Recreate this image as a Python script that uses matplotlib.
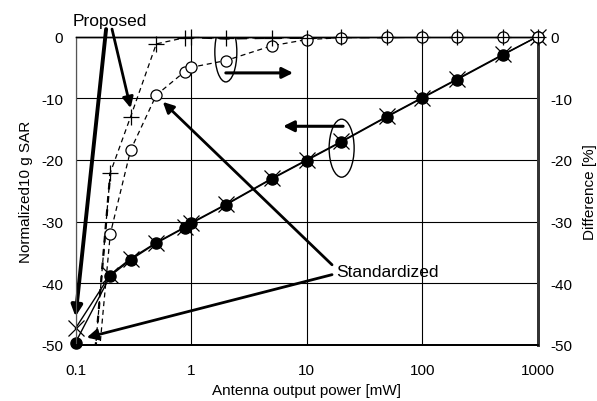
import matplotlib
matplotlib.use("Agg")
import matplotlib.pyplot as plt
from matplotlib.patches import Ellipse
from matplotlib.transforms import ScaledTranslation

plt.rcParams['font.family'] = ['Liberation Sans', 'DejaVu Sans']

# output power [mW]
power = [0.1, 0.2, 0.3, 0.5, 0.88, 1, 2, 5, 10, 20, 50, 100, 200, 500, 1000]

# normalized 10 g SAR [dB] (left axis)
sar_std = [-49.6, -38.8, -36.2, -33.5, -31.0, -30.3, -27.3, -23.1, -20.1, -17.1, -13.0, -10.0, -7.0, -3.0, 0.0]
sar_prop = [-47.3, -38.6, -36.0, -33.4, -30.9, -30.2, -27.2, -23.0, -20.0, -17.0, -12.9, -9.9, -6.9, -2.9, 0.0]

# difference [%] (right axis); values at 0.1 mW lie below the axis
diff_prop = [-89.0, -22.1, -13.0, -1.2, -0.2, -0.1, -0.3, -0.2, -0.2, -0.1, -0.1, 0.0, 0.0, 0.0, 0.0]
diff_std = [-93.0, -32.0, -18.4, -9.5, -5.7, -5.0, -3.9, -1.5, -0.5, -0.2, -0.1, -0.1, 0.0, 0.0, 0.0]

xticks = [0.1, 1, 10, 100, 1000]
xtick_labels = ["0.1", "1", "10", "100", "1000"]
yticks = [0, -10, -20, -30, -40, -50]

fig = plt.figure(figsize=(5.97, 4.02), dpi=100)
ax = fig.add_axes([75.5 / 597, 1 - 346 / 402, (537.7 - 75.5) / 597, (346 - 37.5) / 402])
ax2 = ax.twinx()

for a in (ax, ax2):
    a.set_xscale('log')
    a.set_xlim(0.1, 1000)
    a.set_ylim(-50, 0)
    a.set_yticks(yticks)
    a.set_yticklabels([str(t) for t in yticks])
    a.tick_params(length=0, labelsize=11)

ax.set_xticks(xticks)
ax.set_xticklabels(xtick_labels)
ax.minorticks_off()
ax2.minorticks_off()
ax.tick_params(axis='y', pad=9)
ax.tick_params(axis='x', pad=13)
ax2.tick_params(axis='y', pad=9)
ax.grid(True, color='black', lw=0.8)

for a in (ax, ax2):
    a.spines['left'].set_linewidth(0.8)
    a.spines['left'].set_color('#555555')
    a.spines['right'].set_linewidth(2.0)
    a.spines['right'].set_color('#333333')
    a.spines['bottom'].set_linewidth(1.3)
    a.spines['top'].set_linewidth(1.0)

ax.set_xlabel("Antenna output power [mW]", fontsize=11, labelpad=4)
ax.set_ylabel("Normalized10 g SAR", fontsize=11, labelpad=6)
ax2.set_ylabel("Difference [%]", fontsize=11, labelpad=8)

# SAR curves
ax.plot(power, sar_prop, '-', color='black', lw=1.0, marker='x', ms=11, mew=0.9, clip_on=False, zorder=4)
ax.plot(power, sar_std, '-', color='black', lw=1.0, marker='o', ms=8, mfc='black', mec='black',
        clip_on=False, zorder=5)

# difference curves
ax2.plot(power, diff_std, color='black', lw=0.9, ls=(0, (4, 3)), zorder=3)
ax2.plot(power[1:], diff_std[1:], ls='none', marker='o', ms=8, mfc='white', mec='black', mew=0.9,
         clip_on=False, zorder=4)
ax2.plot(power, diff_prop, color='black', lw=0.9, ls=(0, (4, 3)), zorder=3)
ax2.plot(power[:2], diff_prop[:2], color='black', lw=1.6, ls=(0, (3, 3)), zorder=3)
ax2.plot(power[4:], diff_prop[4:], color='black', lw=1.8, ls=(0, (4, 3)), zorder=3)
ax2.plot(power[1:], diff_prop[1:], ls='none', marker='+', ms=12, mec='black', mew=0.9,
         clip_on=False, zorder=5)

# annotations
head = dict(arrowstyle='-|>', color='black', shrinkA=0, shrinkB=0, mutation_scale=16)
ax.text(0.199, 2.6, "Proposed", fontsize=12.5, ha='center', va='center', clip_on=False)
ax.annotate('', xy=(0.1, -45.4), xytext=(0.184, 1.2), annotation_clip=False,
            arrowprops=dict(head, lw=2.8))
ax.annotate('', xy=(0.3, -11.6), xytext=(0.207, 1.2), annotation_clip=False,
            arrowprops=dict(head, lw=2.0))

ax.text(18.0, -38.1, "Standardized", fontsize=12.5, ha='left', va='center')
ax.annotate('', xy=(0.57, -10.6), xytext=(16.6, -37.0),
            arrowprops=dict(head, lw=2.0))
ax.annotate('', xy=(0.125, -48.8), xytext=(16.6, -38.6),
            arrowprops=dict(head, lw=2.0))

# ellipses and axis-direction arrows
for cx, cy, w, h in [(2.0, -2.5, 0.22, 0.60), (20.1, -18.1, 0.25, 0.58)]:
    tr = fig.dpi_scale_trans + ScaledTranslation(cx, cy, ax.transData)
    ax.add_patch(Ellipse((0, 0), w, h, transform=tr, fill=False, ec='black', lw=1.0, zorder=6))

ax.annotate('', xy=(7.64, -5.9), xytext=(2.0, -5.9), arrowprops=dict(head, lw=2.2))
ax.annotate('', xy=(6.26, -14.55), xytext=(20.7, -14.55), arrowprops=dict(head, lw=2.2))

fig.savefig("out.png", dpi=100)
